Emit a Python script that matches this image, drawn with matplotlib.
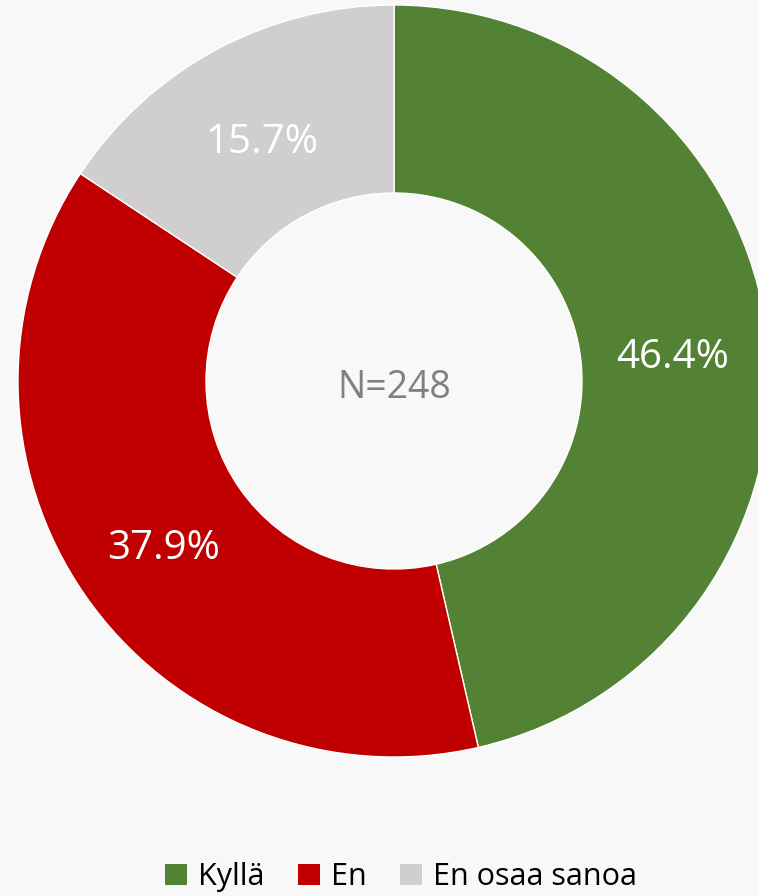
import matplotlib.pyplot as plt
from matplotlib.patches import Patch

labels = ['Kyllä', 'En', 'En osaa sanoa']
shares = [46.4, 37.9, 15.7]
colors = ['#548235', '#c00000', '#d0cece']
n_total = 248

plt.rcParams['font.family'] = ['Open Sans', 'DejaVu Sans']

fig = plt.figure(figsize=(7.58, 8.96), dpi=100)
fig.set_facecolor('#f8f8f8')
ax = fig.add_axes([0, 0, 1, 1])
ax.set_facecolor('#f8f8f8')

wedges, texts, autotexts = ax.pie(
    shares, colors=colors, startangle=90, counterclock=False,
    radius=376, center=(394, 515), autopct='%.1f%%', pctdistance=0.745,
    wedgeprops=dict(width=188, edgecolor='white', linewidth=1),
    textprops=dict(color='white', fontsize=29))
# nudge labels down a bit to sit like the original
for t in autotexts:
    x, y = t.get_position()
    t.set_position((x, y - 8))

ax.text(394, 508, f'N={n_total}', ha='center', va='center', fontsize=27, color='#808080')

ax.set_xlim(0, 758)
ax.set_ylim(0, 896)
ax.set_aspect('equal')
ax.axis('off')

handles = [Patch(facecolor=c, label=l) for c, l in zip(colors, labels)]
fig.legend(handles=handles, loc='center', bbox_to_anchor=(0.529, 0.021), ncol=3,
           frameon=False, fontsize=22, handlelength=0.72, handleheight=0.72,
           handletextpad=0.35, columnspacing=1.1)

fig.savefig('out.png', dpi=100, facecolor=fig.get_facecolor())
